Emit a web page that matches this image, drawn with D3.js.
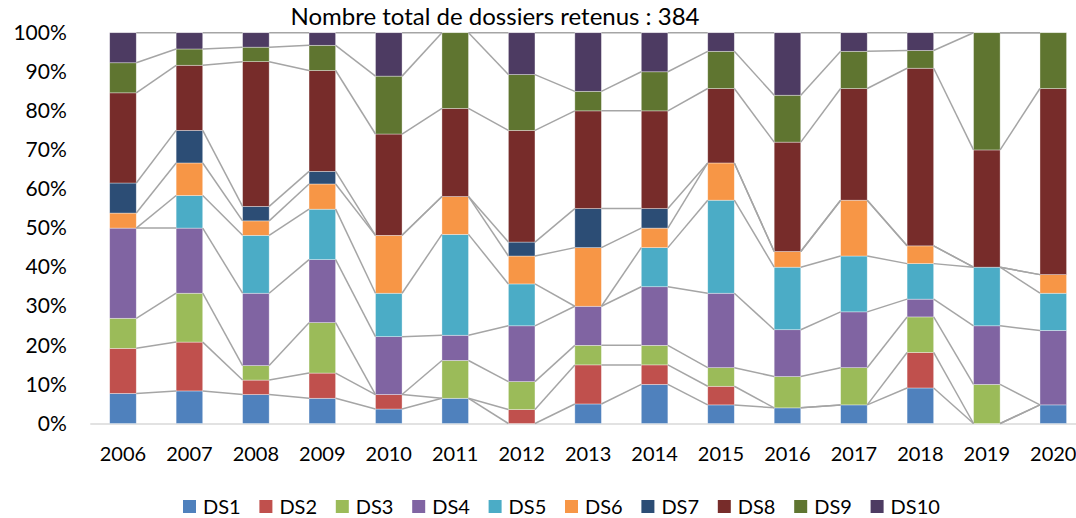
<!DOCTYPE html>
<html>
<head>
<meta charset="utf-8">
<script src="https://d3js.org/d3.v7.min.js"></script>
<style>
  body { margin: 0; background: #fff; }
  svg { display: block; font-family: Lato, "Open Sans", sans-serif; }
</style>
</head>
<body>
<div id="chart"></div>

<script>
  // Years and series names
  var years = ["2006", "2007", "2008", "2009", "2010", "2011", "2012", "2013",
               "2014", "2015", "2016", "2017", "2018", "2019", "2020"];
  var seriesNames = ["DS1", "DS2", "DS3", "DS4", "DS5", "DS6", "DS7", "DS8", "DS9", "DS10"];

  // Number of dossiers per year (read from the stacked shares)
  var DS1  = [2, 2, 2, 2, 1, 2, 0, 1, 2, 1, 1, 1, 2, 0, 1];
  var DS2  = [3, 3, 1, 2, 1, 0, 1, 2, 1, 1, 0, 0, 2, 0, 0];
  var DS3  = [2, 3, 1, 4, 0, 3, 2, 1, 1, 1, 2, 2, 2, 2, 0];
  var DS4  = [6, 4, 5, 5, 4, 2, 4, 2, 3, 4, 3, 3, 1, 3, 4];
  var DS5  = [0, 2, 4, 4, 3, 8, 3, 0, 2, 5, 4, 3, 2, 3, 2];
  var DS6  = [1, 2, 1, 2, 4, 3, 2, 3, 1, 2, 1, 3, 1, 0, 1];
  var DS7  = [2, 2, 1, 1, 0, 0, 1, 2, 1, 0, 0, 0, 0, 0, 0];
  var DS8  = [6, 4, 10, 8, 7, 7, 8, 5, 5, 4, 7, 6, 10, 6, 10];
  var DS9  = [2, 1, 1, 2, 4, 6, 4, 1, 2, 2, 3, 2, 1, 6, 3];
  var DS10 = [2, 1, 1, 1, 3, 0, 3, 3, 2, 1, 4, 1, 1, 0, 0];
  var seriesValues = [DS1, DS2, DS3, DS4, DS5, DS6, DS7, DS8, DS9, DS10];

  var colors = ["#4F81BD", "#C0504D", "#9BBB59", "#8064A2", "#4BACC6",
                "#F79646", "#2C4D75", "#772C2A", "#5F7530", "#4D3B62"];
  var yTicks = [0, 0.1, 0.2, 0.3, 0.4, 0.5, 0.6, 0.7, 0.8, 0.9, 1];
  var title = "Nombre total de dossiers retenus : 384";

  var W = 1076, H = 518;
  var plot = {left: 89.75, right: 1086.5, top: 32.7, bottom: 423.5};

  // build rows for d3.stack
  var rows = years.map(function(y, i) {
    var r = {year: y};
    seriesNames.forEach(function(s, k) { r[s] = seriesValues[k][i]; });
    return r;
  });

  var stack = d3.stack()
    .keys(seriesNames)
    .offset(d3.stackOffsetExpand);
  var layers = stack(rows);

  var svg = d3.select("#chart")
    .append("svg")
      .attr("width", W)
      .attr("height", H);

  var x = d3.scaleBand()
    .domain(years)
    .range([plot.left, plot.right])
    .paddingInner(0.6)
    .paddingOuter(0.3);

  var y = d3.scaleLinear()
    .domain([0, 1])
    .range([plot.bottom, plot.top]);

  // Title
  svg.append("text")
    .attr("x", 495)
    .attr("y", 25)
    .attr("text-anchor", "middle")
    .style("font-size", "24px")
    .style("fill", "#000")
    .text(title);

  // Y axis (labels only)
  var yAxis = svg.append("g")
    .attr("transform", "translate(" + plot.left + ",0)")
    .call(d3.axisLeft(y).tickValues(yTicks).tickSize(0).tickPadding(23)
      .tickFormat(d3.format(".0%")));
  yAxis.select(".domain").remove();
  yAxis.selectAll("text")
    .style("font-family", "Lato, sans-serif")
    .style("font-size", "21px")
    .style("fill", "#000");

  // X axis
  var xAxis = svg.append("g")
    .attr("transform", "translate(0," + plot.bottom + ")")
    .call(d3.axisBottom(x).tickSize(0).tickPadding(23).tickSizeOuter(0));
  xAxis.select(".domain").attr("stroke", "#d9d9d9").attr("stroke-width", 1.5);
  xAxis.selectAll("text")
    .style("font-family", "Lato, sans-serif")
    .style("font-size", "20px")
    .style("fill", "#000");

  // Bars
  svg.append("g")
    .selectAll("g")
    .data(layers)
    .join("g")
      .attr("fill", function(d, k) { return colors[k]; })
    .selectAll("rect")
    .data(function(d) { return d; })
    .join("rect")
      .attr("x", function(d) { return x(d.data.year); })
      .attr("y", function(d) { return y(d[1]); })
      .attr("width", x.bandwidth())
      .attr("height", function(d) { return y(d[0]) - y(d[1]); })
      .attr("stroke", "#ffffff")
      .attr("stroke-opacity", 0.5)
      .attr("stroke-width", 0.7);

  // Series lines (join the top of each series from one bar to the next)
  var segs = [];
  layers.forEach(function(layer) {
    for (var i = 0; i < layer.length - 1; i++) {
      segs.push({
        x1: x(years[i]) + x.bandwidth(), y1: y(layer[i][1]),
        x2: x(years[i + 1]), y2: y(layer[i + 1][1])
      });
    }
  });
  svg.append("g")
    .selectAll("line")
    .data(segs)
    .join("line")
      .attr("x1", function(d) { return d.x1; })
      .attr("y1", function(d) { return d.y1; })
      .attr("x2", function(d) { return d.x2; })
      .attr("y2", function(d) { return d.y2; })
      .attr("stroke", "#a5a5a5")
      .attr("stroke-width", 1.5);

  // Legend
  var legend = svg.append("g")
    .selectAll("g")
    .data(seriesNames)
    .join("g")
      .attr("transform", function(d, k) { return "translate(" + (183 + k * 76.4) + ",500)"; });
  legend.append("rect")
    .attr("width", 13)
    .attr("height", 13)
    .attr("fill", function(d, k) { return colors[k]; });
  legend.append("text")
    .attr("x", 20)
    .attr("y", 13.5)
    .style("font-size", "20px")
    .style("fill", "#000")
    .text(function(d) { return d; });
</script>
</body>
</html>
